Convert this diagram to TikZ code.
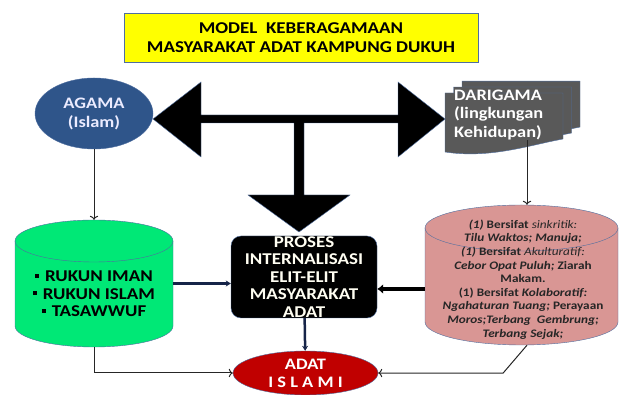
\documentclass[tikz,border=0pt]{standalone}
\usepackage{fontspec}
\setmainfont{Carlito}[FakeStretch=1.15]
\usetikzlibrary{shapes.geometric,arrows.meta}
\definecolor{titleyellow}{RGB}{255,255,0}
\definecolor{edgeblue}{RGB}{79,110,160}
\definecolor{agamablue}{RGB}{47,85,138}
\definecolor{pagegrey}{RGB}{89,89,89}
\definecolor{rukungreen}{RGB}{0,232,118}
\definecolor{tradisipink}{RGB}{217,150,148}
\definecolor{adatred}{RGB}{192,0,0}
\definecolor{navyline}{RGB}{22,36,72}
\tikzset{
    title-box/.style = {draw=edgeblue, fill=titleyellow, thin, minimum width=354, minimum height=49, align=center, font=\bfseries\fontsize{16.5}{19}\selectfont},
    agama-oval/.style = {ellipse, draw=edgeblue, fill=agamablue, minimum width=118, minimum height=71, inner sep=0pt, align=center, text=white!92!blue, font=\bfseries\fontsize{16}{19}\selectfont},
    page/.style = {draw=edgeblue, fill=pagegrey, thin},
    drum/.style = {draw=edgeblue, thin},
    proses-box/.style = {draw=edgeblue, fill=black, rectangle, rounded corners=10pt, minimum width=146, minimum height=82, inner sep=0pt, align=center, text=white!95!yellow, font=\bfseries\fontsize{16.5}{17.5}\selectfont},
    adat-oval/.style = {ellipse, draw=edgeblue, fill=adatred, minimum width=145, minimum height=44, inner sep=0pt, align=center, text=white, font=\bfseries\fontsize{16}{18}\selectfont},
    thin-arrow/.style = {draw=black!85, line width=1pt, -{To[length=4pt]}},
    navy-arrow/.style = {draw=navyline, line width=2.5pt, -{Stealth[length=5pt,width=6pt]}},
    black-arrow/.style = {draw=black, line width=4.5pt, -{Latex[length=6pt,width=10pt]}},
}
\newcommand{\kotak}{\rule[0.25em]{4pt}{4pt}\hspace{6pt}}

\begin{document}
\begin{tikzpicture}[x=1pt,y=1pt]
\useasboundingbox (0,0) rectangle (620,395);

\node[title-box] (judul) at (301,357.5) {MODEL\ \ KEBERAGAMAAN\\MASYARAKAT ADAT KAMPUNG DUKUH};

\node[agama-oval] (agama) at (94,281.5) {AGAMA\\(Islam)};

% darigama: three stacked pages
\foreach \d in {17,8.5,0} {
    \filldraw[page] (445+\d,243+0.7*\d) -- (445+\d,302+0.7*\d) -- (563+\d,302+0.7*\d) -- (563+\d,256+0.7*\d)
        .. controls (530+\d,250+0.7*\d) and (490+\d,236+0.7*\d) .. (445+\d,243+0.7*\d) -- cycle;
}
\node[anchor=west, align=left, inner sep=0pt, text=white, font=\bfseries\fontsize{16}{18.5}\selectfont] (darigama) at (454,280) {DARIGAMA\\(lingkungan\\Kehidupan)};

% big T arrow
\filldraw[draw=edgeblue, fill=black, thin] (153,276) -- (201,313) -- (201,280) -- (398,280) -- (398,313) -- (445,276)
    -- (398,238) -- (398,272) -- (304,272) -- (304,200) -- (350,200) -- (299,163) -- (248,200) -- (294,200)
    -- (294,272) -- (201,272) -- (201,238) -- cycle;

% green drum
\filldraw[drum, fill=rukungreen] (15,154) -- (15,69) arc[start angle=180, end angle=360, x radius=79, y radius=21]
    -- (173,154) arc[start angle=0, end angle=180, x radius=79, y radius=21] -- cycle;
\draw[drum] (15,154) arc[start angle=180, end angle=360, x radius=79, y radius=21];
\node[minimum width=158, minimum height=127, inner sep=0pt] (rukun) at (94,111.5) {};
\node[align=center, font=\bfseries\fontsize{16.5}{17.5}\selectfont] (rukuntext) at (94,101) {\kotak RUKUN IMAN\\\kotak RUKUN ISLAM\\\kotak TASAWWUF};

% pink drum
\filldraw[drum, fill=tradisipink] (425,167) -- (425,73) arc[start angle=180, end angle=360, x radius=96.5, y radius=23]
    -- (618,167) arc[start angle=0, end angle=180, x radius=96.5, y radius=23] -- cycle;
\draw[drum] (425,167) arc[start angle=180, end angle=360, x radius=96.5, y radius=23];
\node[minimum width=193, minimum height=140, inner sep=0pt] (tradisi) at (521.5,120) {};
\node[align=center, text=black!85, font=\fontsize{11.5}{13.6}\selectfont] (tradisitext) at (523,115.5) {%
    {\bfseries\itshape (1)} {\bfseries Bersifat} {\itshape sinkritik:}\\
    {\bfseries\itshape Tilu Waktos; Manuja;}\\
    {\bfseries\itshape (1)} {\bfseries Bersifat} {\itshape Akulturatif:}\\
    {\bfseries\itshape Cebor Opat Puluh;} {\bfseries Ziarah}\\
    {\bfseries Makam.}\\
    {\bfseries (1) Bersifat} {\bfseries\itshape Kolaboratif:}\\
    {\bfseries\itshape Ngahaturan Tuang;} {\bfseries Perayaan}\\
    {\bfseries\itshape Moros;Terbang\ \ Gembrung;}\\
    {\bfseries\itshape Terbang Sejak;}};

\node[proses-box] (proses) at (304,118) {PROSES\\INTERNALISASI\\ELIT-ELIT\\MASYARAKAT\\ADAT};

\node[adat-oval] (adat) at (305.5,22) {ADAT\\I S L A M I};

% connectors
\draw[thin-arrow] (agama) -- (rukun);
\draw[thin-arrow] ([xshift=5.5pt]tradisi.north |- darigama.south) -- ([xshift=5.5pt]tradisi.north);
\draw[navy-arrow] (rukun.east) -- (rukun.east -| proses.west);
\draw[black-arrow] ([yshift=-14pt]tradisi.west) -- ([yshift=-14pt]tradisi.west -| proses.east);
\draw[navy-arrow] (proses) -- (adat);
\draw[thin-arrow] (rukun.south) |- (adat.west);
\draw[thin-arrow] ([xshift=5.5pt]tradisi.south) -- ++(-24,-28) -- (adat.east);
\end{tikzpicture}
\end{document}
